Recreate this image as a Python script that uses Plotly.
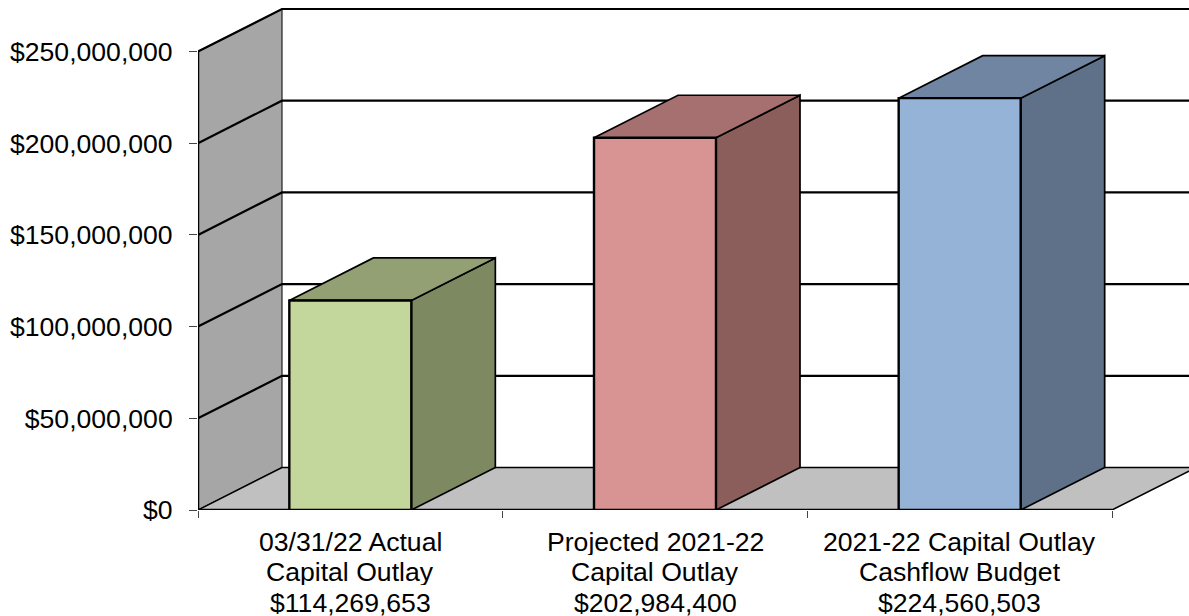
import plotly.graph_objects as go

categories = ["03/31/22 Actual", "Projected 2021-22", "2021-22 Capital Outlay"]
subtitles = ["Capital Outlay", "Capital Outlay", "Cashflow Budget"]
amounts = ["$114,269,653", "$202,984,400", "$224,560,503"]
values = [114269653, 202984400, 224560503]
front_colors = ["#c3d69b", "#d79492", "#95b3d7"]
top_colors = ["#93a074", "#a5706f", "#7085a2"]
side_colors = ["#7d8961", "#8b5e5c", "#5f7089"]
y_ticks = [0, 50000000, 100000000, 150000000, 200000000, 250000000]
y_labels = ["$0", "$50,000,000", "$100,000,000", "$150,000,000", "$200,000,000", "$250,000,000"]

FONT = "Liberation Sans"
L, B = 198, 106
W, H = 1189, 616
cat_px = 304.67
val_per_px = 250000000 / 458.5
dx = 84 / cat_px
dy = 42.5 * val_per_px
half = 61 / cat_px
x_end = 2.5 + (W - 1112) / cat_px
y_top = (H - B) * val_per_px

fig = go.Figure()


def poly(xs, ys, fill, lw=1.5, color="#000000"):
    fig.add_trace(go.Scatter(
        x=xs + xs[:1], y=ys + ys[:1], mode="lines", fill="toself", fillcolor=fill,
        line=dict(color=color, width=lw), hoverinfo="skip", showlegend=False, cliponaxis=False))


def line(xs, ys, lw=2, color="#000000"):
    fig.add_trace(go.Scatter(
        x=xs, y=ys, mode="lines", line=dict(color=color, width=lw),
        hoverinfo="skip", showlegend=False, cliponaxis=False))


top = y_ticks[-1]
# side wall and floor
poly([-0.5, -0.5 + dx, -0.5 + dx, -0.5], [0, dy, top + dy, top], "#a6a6a6", 1.2, "#222222")
poly([-0.5, 2.5, 2.5 + dx, -0.5 + dx], [0, 0, dy, dy], "#c0c0c0", 1.5)
# grid lines on wall and back plane
for v in y_ticks[1:]:
    line([-0.5, -0.5 + dx, x_end], [v, v + dy, v + dy], 2.2)
# frame
line([-0.5, -0.5], [0, top], 2.5)
line([-0.5, 2.5], [0, 0], 2.5)

# bars
for i, v in enumerate(values):
    x0, x1 = i - half, i + half
    poly([x1, x1 + dx, x1 + dx, x1], [0, dy, v + dy, v], side_colors[i], 1.7)
    poly([x0, x1, x1 + dx, x0 + dx], [v, v, v + dy, v + dy], top_colors[i], 1.7)
    poly([x0, x1, x1, x0], [0, 0, v, v], front_colors[i], 2.4)

# category labels, one real text per row
annotations = []
for i in range(len(values)):
    for row, text in enumerate([categories[i], subtitles[i], amounts[i]]):
        annotations.append(dict(
            x=i, y=0, xref="x", yref="y", text=text, showarrow=False,
            xanchor="center", yanchor="middle", yshift=-(31 + 30.7 * row), height=27,
            font=dict(family=FONT, size=26.6, color="#000000")))

fig.update_layout(
    width=W, height=H, autosize=False,
    margin=dict(l=L, r=0, t=0, b=B, pad=0),
    paper_bgcolor="#ffffff", plot_bgcolor="#ffffff",
    showlegend=False, annotations=annotations,
    xaxis=dict(
        range=[-0.5, x_end], showgrid=False, zeroline=False, showline=False,
        tickmode="array", tickvals=[-0.5, 0.5, 1.5, 2.5], ticktext=["", "", "", ""],
        ticks="outside", ticklen=7, tickwidth=1, tickcolor="#444444"),
    yaxis=dict(
        range=[0, y_top], showgrid=False, zeroline=False, showline=False,
        tickmode="array", tickvals=y_ticks, ticktext=y_labels,
        ticks="outside", ticklen=8, tickwidth=1, tickcolor="#444444",
        ticklabelstandoff=11,
        tickfont=dict(family=FONT, size=26.6, color="#000000")),
)

fig.write_html("out.html", config={"displayModeBar": False},
               post_script="document.body.style.margin='0';document.body.style.overflow='hidden';")
